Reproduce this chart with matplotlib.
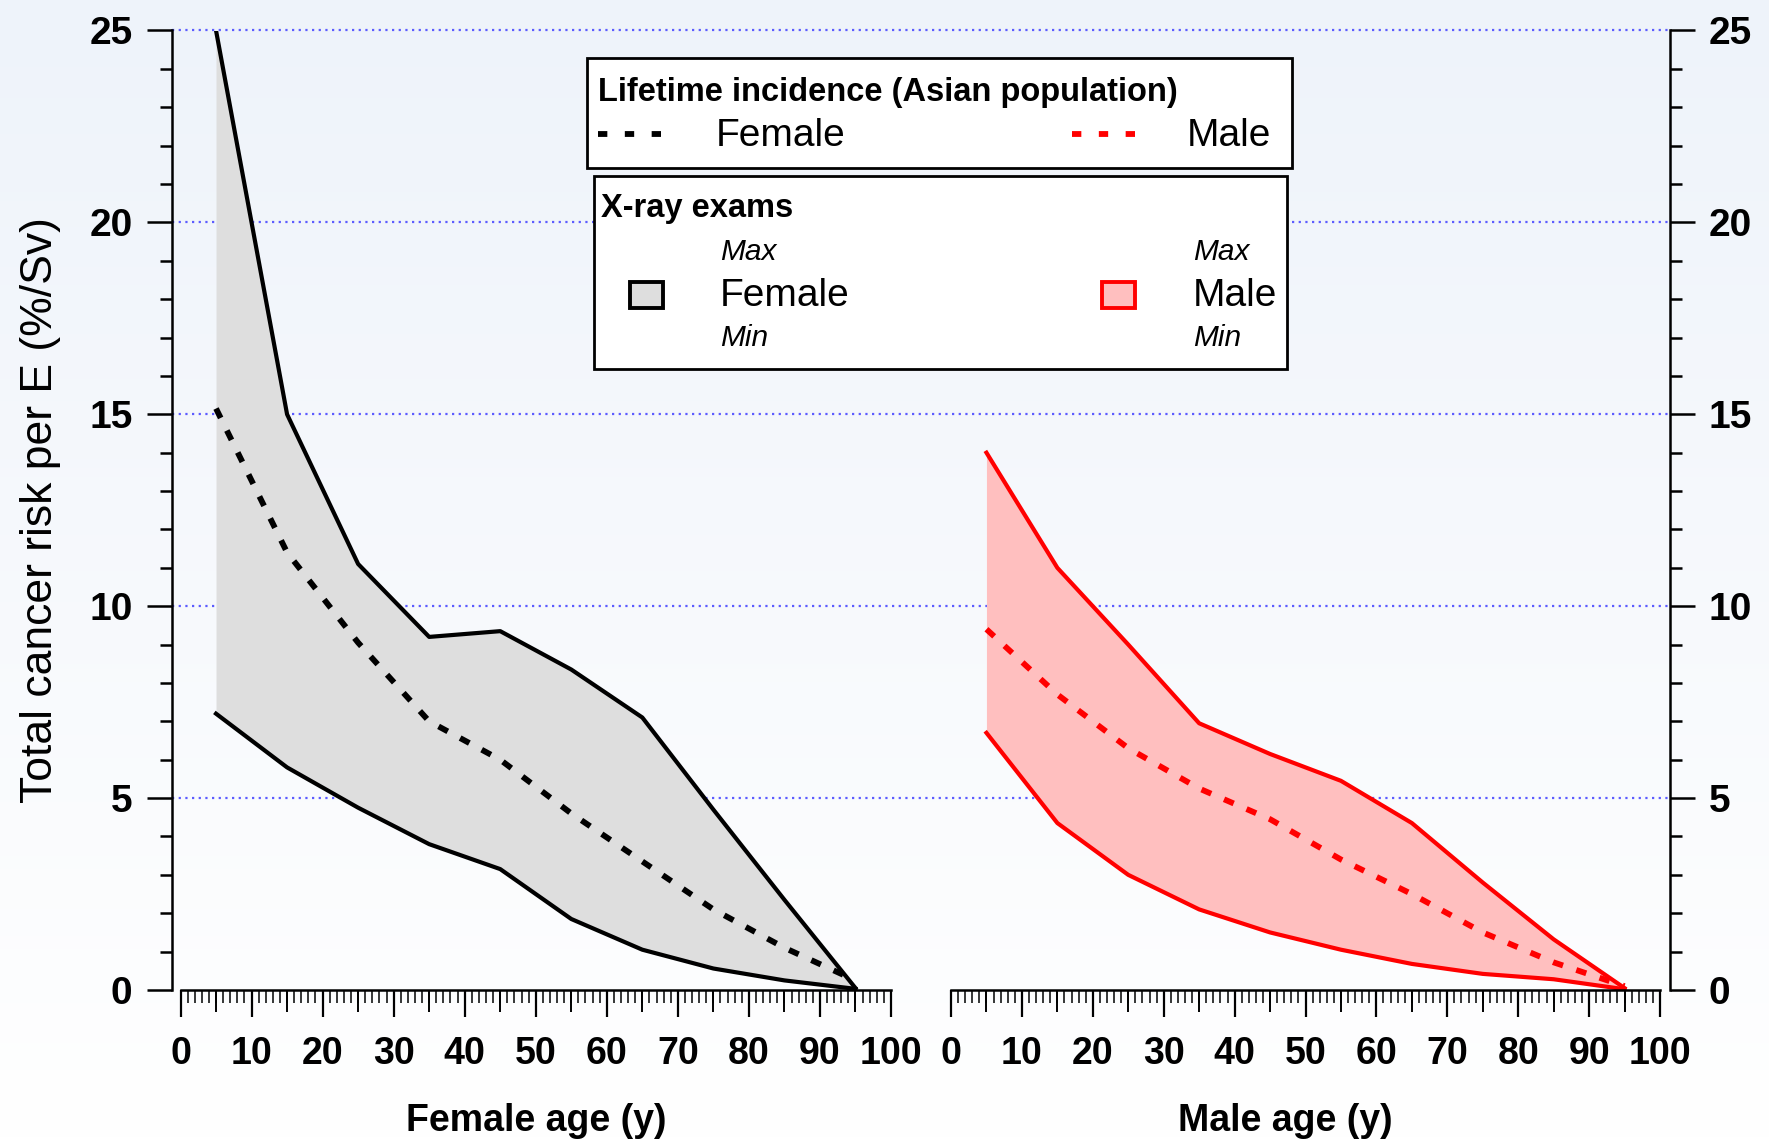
import numpy as np
import matplotlib
matplotlib.use("Agg")
import matplotlib.pyplot as plt
from matplotlib.colors import LinearSegmentedColormap
from matplotlib.lines import Line2D
from matplotlib.patches import Rectangle
from matplotlib.ticker import FixedLocator, MultipleLocator

# values (risk in %/Sv at ages 5, 15, ..., 95)
AGES = [5, 15, 25, 35, 45, 55, 65, 75, 85, 95]
FEMALE_MAX = [25.0, 15.0, 11.1, 9.2, 9.35, 8.35, 7.1, 4.7, 2.35, 0.05]
FEMALE_MIN = [7.2, 5.8, 4.75, 3.8, 3.15, 1.85, 1.05, 0.56, 0.25, 0.03]
FEMALE_LIFETIME = [15.15, 11.4, 9.05, 7.0, 6.0, 4.6, 3.35, 2.1, 1.1, 0.25]
MALE_MAX = [14.0, 11.0, 9.0, 6.95, 6.15, 5.45, 4.35, 2.8, 1.32, 0.05]
MALE_MIN = [6.7, 4.35, 3.0, 2.1, 1.5, 1.05, 0.68, 0.42, 0.28, 0.02]
MALE_LIFETIME = [9.4, 7.7, 6.3, 5.25, 4.45, 3.4, 2.5, 1.5, 0.72, 0.1]
GRID_LEVELS = [5, 10, 15, 20, 25]

W, H = 1769, 1141

plt.rcParams["font.family"] = ["Liberation Sans", "DejaVu Sans"]

GRID = "#5c5cff"
GREY_FILL = "#dedede"
PINK_FILL = "#ffbfbf"
RED = "#ff0000"
DASH = (0, (1.8, 2.4))


def fx(px):
    return px / W


def fy(py):
    return 1 - py / H


fig = plt.figure(figsize=(W / 100, H / 100), dpi=100)

# soft blue-to-white background
bg = fig.add_axes([0, 0, 1, 1], zorder=-10)
bg.imshow(np.linspace(0, 1, 256).reshape(-1, 1), aspect="auto", origin="lower",
          extent=[0, 1, 0, 1],
          cmap=LinearSegmentedColormap.from_list("bg", ["#ffffff", "#eef3fa"]))
bg.axis("off")

B, T = fy(990), fy(30.5)
Y_LEFT, Y_RIGHT = fx(171.5), fx(1670)

# grid layer, a few pixels taller so the top line is not clipped
extra = 6 / 38.4
gridax = fig.add_axes([Y_LEFT, B, Y_RIGHT - Y_LEFT, fy(30.5 - 6) - B], zorder=0.5)
gridax.patch.set_visible(False)
gridax.set_ylim(0, 25 + extra)
gridax.set_xlim(0, 1)
for s in gridax.spines.values():
    s.set_visible(False)
gridax.set_xticks([])
gridax.yaxis.set_major_locator(FixedLocator(GRID_LEVELS))
gridax.tick_params(axis="y", left=False, labelleft=False)
gridax.yaxis.grid(True, color=GRID, linestyle=(0, (1, 2)), linewidth=1.6)

# frame axes: shared y axis on both sides
frame = fig.add_axes([Y_LEFT, B, Y_RIGHT - Y_LEFT, T - B], zorder=1)
frame.patch.set_visible(False)
frame.set_xlim(0, 1)
frame.set_ylim(0, 25)
frame.set_xticks([])
frame.spines["top"].set_visible(False)
frame.spines["bottom"].set_visible(False)
for s in ("left", "right"):
    frame.spines[s].set_linewidth(1.8)
frame.yaxis.set_major_locator(MultipleLocator(5))
frame.yaxis.set_minor_locator(MultipleLocator(1))
frame.tick_params(axis="y", which="both", left=True, right=True,
                  labelleft=True, labelright=True, direction="out", width=1.8)
frame.tick_params(axis="y", which="major", length=18, pad=10, labelsize=28)
frame.tick_params(axis="y", which="minor", length=8.6)
for lab in frame.get_yticklabels(which="both"):
    lab.set_fontweight("bold")
frame.set_ylabel("Total cancer risk per E (%/Sv)", fontsize=32, labelpad=20)


def make_panel(left_px, right_px, xlabel):
    ax = fig.add_axes([fx(left_px), B, fx(right_px) - fx(left_px), T - B], zorder=2)
    ax.patch.set_visible(False)
    ax.set_xlim(0, 100)
    ax.set_ylim(0, 25)
    for s in ("left", "right", "top"):
        ax.spines[s].set_visible(False)
    ax.spines["bottom"].set_linewidth(1.8)
    ax.set_yticks([])
    ax.xaxis.set_major_locator(MultipleLocator(10))
    ax.xaxis.set_minor_locator(MultipleLocator(1))
    ax.tick_params(axis="x", which="major", direction="out", length=19.4, width=1.6,
                   pad=14, labelsize=27)
    ax.tick_params(axis="x", which="minor", direction="out", length=9.4, width=1.1)
    for lab in ax.get_xticklabels():
        lab.set_fontweight("bold")
    # mid ticks at the fives
    sec = ax.secondary_xaxis("bottom")
    sec.xaxis.set_major_locator(FixedLocator(range(5, 100, 10)))
    sec.tick_params(axis="x", direction="out", length=16, width=1.4, labelbottom=False)
    sec.spines["bottom"].set_visible(False)
    ax.set_xlabel(xlabel, fontsize=27, fontweight="bold", labelpad=22)
    return ax


axf = make_panel(180.5, 891, "Female age (y)")
axm = make_panel(951, 1660, "Male age (y)")
axm.xaxis.label.set_x(0.471)

axf.fill_between(AGES, FEMALE_MIN, FEMALE_MAX, color=GREY_FILL, linewidth=0)
axf.plot(AGES, FEMALE_MAX, color="black", linewidth=3.0)
axf.plot(AGES, FEMALE_MIN, color="black", linewidth=3.0)
axf.plot(AGES, FEMALE_LIFETIME, color="black", linewidth=4.2, linestyle=DASH)

axm.fill_between(AGES, MALE_MIN, MALE_MAX, color=PINK_FILL, linewidth=0)
axm.plot(AGES, MALE_MAX, color=RED, linewidth=3.0)
axm.plot(AGES, MALE_MIN, color=RED, linewidth=3.0)
axm.plot(AGES, MALE_LIFETIME, color=RED, linewidth=4.2, linestyle=DASH)


# hand-built legend boxes
def box(x0, y0, x1, y1):
    fig.add_artist(Rectangle((fx(x0), fy(y1)), fx(x1) - fx(x0), fy(y0) - fy(y1),
                             transform=fig.transFigure, facecolor="white",
                             edgecolor="black", linewidth=2.0, zorder=10))


def label(x, y, s, size, weight="normal", style="normal"):
    fig.text(fx(x), fy(y), s, fontsize=size, fontweight=weight, fontstyle=style,
             ha="left", va="baseline", zorder=11)


def dash_sample(x0, x1, y, color):
    fig.add_artist(Line2D([fx(x0), fx(x1)], [fy(y), fy(y)], transform=fig.transFigure,
                          color=color, linewidth=4.2, linestyle=(0, (1.6, 3.0)), zorder=11))


box(587, 58.5, 1291.5, 168)
label(597.5, 100.5, "Lifetime incidence (Asian population)", 23.5, weight="bold")
dash_sample(598, 665, 134, "black")
label(715.5, 146.5, "Female", 28)
dash_sample(1072, 1138, 134, RED)
label(1187, 146.5, "Male", 28)

box(594, 176, 1287, 369)
label(601, 216.5, "X-ray exams", 23.5, weight="bold")
for x_txt, sw_x, face, edge in ((720, 630, GREY_FILL, "black"),
                                (1193, 1101.5, PINK_FILL, RED)):
    fig.add_artist(Rectangle((fx(sw_x), fy(308)), fx(33), fy(282) - fy(308),
                             transform=fig.transFigure, facecolor=face,
                             edgecolor=edge, linewidth=2.8, zorder=11))
    label(x_txt, 259.5, "Max", 21.5, style="italic")
    label(x_txt, 346, "Min", 21.5, style="italic")
label(720, 306, "Female", 28)
label(1193, 306, "Male", 28)

fig.savefig("out.png", dpi=100)
